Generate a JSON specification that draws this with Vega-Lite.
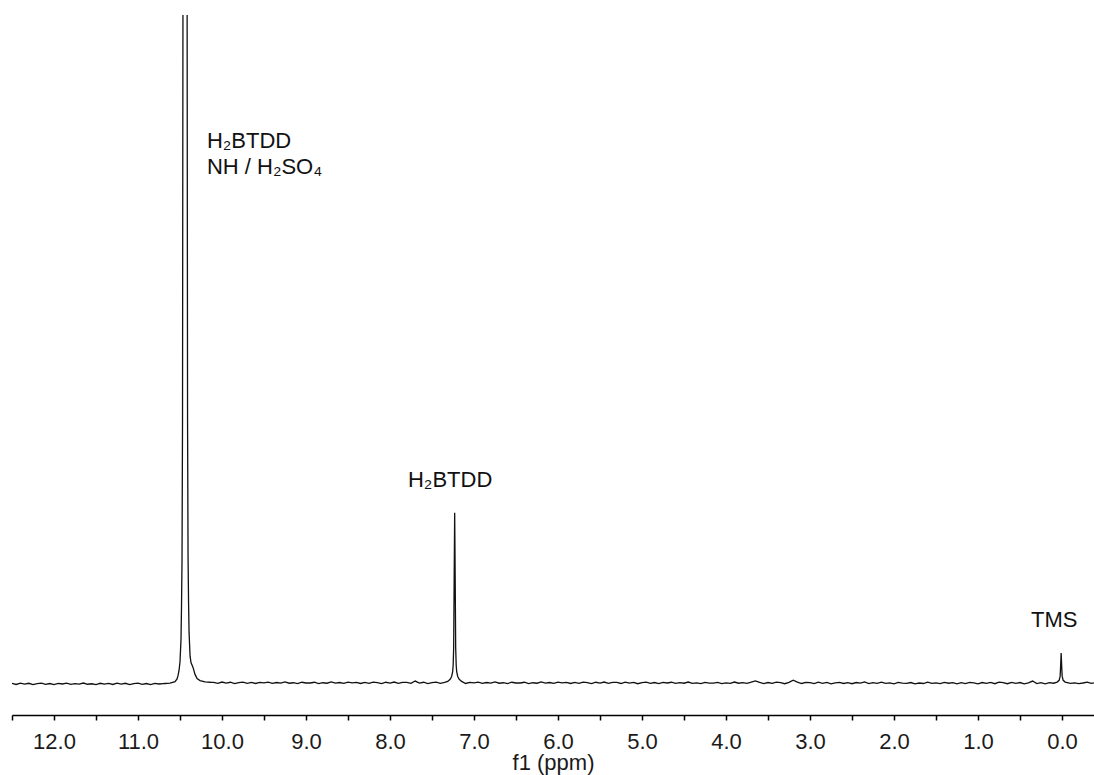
{
  "$schema": "https://vega.github.io/schema/vega-lite/v6.json",
  "width": 1082,
  "height": 700,
  "autosize": "none",
  "padding": {"left": 12, "top": 15, "right": 0, "bottom": 60},
  "background": "white",
  "config": {"view": {"stroke": null}, "font": "Liberation Sans"},
  "layer": [
    {
      "data": {"values": [
        {"x":12.50,"y":4.51},{"x":12.45,"y":4.36},{"x":12.40,"y":4.56},{"x":12.35,"y":4.41},{"x":12.30,"y":4.53},{"x":12.25,"y":4.33},{"x":12.20,"y":4.48},{"x":12.15,"y":4.55},{"x":12.10,"y":4.38},{"x":12.05,"y":4.50},{"x":12.00,"y":4.35},{"x":11.95,"y":4.52},{"x":11.90,"y":4.43},{"x":11.85,"y":4.54},{"x":11.80,"y":4.37},{"x":11.75,"y":4.49},{"x":11.70,"y":4.40},{"x":11.65,"y":4.57},{"x":11.60,"y":4.39},{"x":11.55,"y":4.46},{"x":11.50,"y":4.34},{"x":11.45,"y":4.53},{"x":11.40,"y":4.42},
        {"x":11.35,"y":4.51},{"x":11.30,"y":4.36},{"x":11.25,"y":4.56},{"x":11.20,"y":4.41},{"x":11.15,"y":4.53},{"x":11.10,"y":4.33},{"x":11.05,"y":4.48},{"x":11.00,"y":4.55},{"x":10.95,"y":4.38},{"x":10.90,"y":4.50},{"x":10.85,"y":4.35},{"x":10.80,"y":4.52},{"x":10.75,"y":4.43},{"x":10.70,"y":4.48},
        {"x":10.678,"y":4.50},{"x":10.619,"y":4.55},{"x":10.559,"y":4.75},{"x":10.535,"y":5.15},{"x":10.523,"y":5.65},{"x":10.511,"y":6.4},{"x":10.500,"y":7.6},{"x":10.488,"y":10.8},{"x":10.482,"y":15.5},{"x":10.476,"y":22},{"x":10.470,"y":42},{"x":10.464,"y":110},{"x":10.452,"y":500},{"x":10.44,"y":3000},
        {"x":10.428,"y":500},{"x":10.416,"y":110},{"x":10.410,"y":42},{"x":10.404,"y":22.5},{"x":10.398,"y":16},{"x":10.392,"y":11.8},{"x":10.380,"y":8.4},{"x":10.369,"y":7.5},{"x":10.345,"y":6.8},{"x":10.321,"y":5.8},{"x":10.297,"y":5.2},{"x":10.261,"y":4.92},{"x":10.202,"y":4.74},{"x":10.14,"y":4.68},
        {"x":10.10,"y":4.66},{"x":10.05,"y":4.51},{"x":10.00,"y":4.71},{"x":9.95,"y":4.56},{"x":9.90,"y":4.68},{"x":9.85,"y":4.48},{"x":9.80,"y":4.63},{"x":9.75,"y":4.70},{"x":9.70,"y":4.53},{"x":9.65,"y":4.65},{"x":9.60,"y":4.50},{"x":9.55,"y":4.67},{"x":9.50,"y":4.58},{"x":9.45,"y":4.69},{"x":9.40,"y":4.52},{"x":9.35,"y":4.64},{"x":9.30,"y":4.55},{"x":9.25,"y":4.72},{"x":9.20,"y":4.54},{"x":9.15,"y":4.61},{"x":9.10,"y":4.49},{"x":9.05,"y":4.68},{"x":9.00,"y":4.57},
        {"x":8.95,"y":4.57},{"x":8.90,"y":4.68},{"x":8.85,"y":4.49},{"x":8.80,"y":4.61},{"x":8.75,"y":4.54},{"x":8.70,"y":4.72},{"x":8.65,"y":4.55},{"x":8.60,"y":4.64},{"x":8.55,"y":4.52},{"x":8.50,"y":4.69},{"x":8.45,"y":4.58},{"x":8.40,"y":4.67},{"x":8.35,"y":4.50},{"x":8.30,"y":4.65},{"x":8.25,"y":4.53},{"x":8.20,"y":4.70},{"x":8.15,"y":4.63},{"x":8.10,"y":4.48},{"x":8.05,"y":4.68},{"x":8.00,"y":4.56},{"x":7.95,"y":4.71},{"x":7.90,"y":4.51},{"x":7.85,"y":4.66},
        {"x":7.80,"y":4.66},{"x":7.75,"y":4.51},{"x":7.70,"y":4.85},{"x":7.65,"y":4.56},{"x":7.60,"y":4.68},{"x":7.55,"y":4.48},{"x":7.50,"y":4.63},{"x":7.45,"y":4.70},{"x":7.40,"y":4.53},{"x":7.35,"y":4.65},
        {"x":7.313,"y":4.8},{"x":7.284,"y":5.1},{"x":7.266,"y":5.5},{"x":7.254,"y":6.2},{"x":7.248,"y":7.1},{"x":7.242,"y":9.6},{"x":7.236,"y":19.6},{"x":7.23,"y":28.9},{"x":7.224,"y":19.6},{"x":7.218,"y":9.6},{"x":7.212,"y":7.1},{"x":7.206,"y":6.2},{"x":7.194,"y":5.5},{"x":7.176,"y":5.1},{"x":7.147,"y":4.8},
        {"x":7.10,"y":4.50},{"x":7.05,"y":4.67},{"x":7.00,"y":4.58},{"x":6.95,"y":4.69},{"x":6.90,"y":4.52},{"x":6.85,"y":4.64},{"x":6.80,"y":4.55},{"x":6.75,"y":4.72},{"x":6.70,"y":4.54},{"x":6.65,"y":4.61},{"x":6.60,"y":4.49},{"x":6.55,"y":4.68},{"x":6.50,"y":4.57},
        {"x":6.45,"y":4.57},{"x":6.40,"y":4.68},{"x":6.35,"y":4.49},{"x":6.30,"y":4.61},{"x":6.25,"y":4.54},{"x":6.20,"y":4.72},{"x":6.15,"y":4.55},{"x":6.10,"y":4.64},{"x":6.05,"y":4.52},{"x":6.00,"y":4.69},{"x":5.95,"y":4.58},{"x":5.90,"y":4.67},{"x":5.85,"y":4.50},{"x":5.80,"y":4.65},{"x":5.75,"y":4.53},{"x":5.70,"y":4.70},{"x":5.65,"y":4.63},{"x":5.60,"y":4.48},{"x":5.55,"y":4.68},{"x":5.50,"y":4.56},{"x":5.45,"y":4.71},{"x":5.40,"y":4.51},{"x":5.35,"y":4.66},
        {"x":5.30,"y":4.65},{"x":5.25,"y":4.50},{"x":5.20,"y":4.70},{"x":5.15,"y":4.55},{"x":5.10,"y":4.67},{"x":5.05,"y":4.47},{"x":5.00,"y":4.62},{"x":4.95,"y":4.69},{"x":4.90,"y":4.52},{"x":4.85,"y":4.64},{"x":4.80,"y":4.49},{"x":4.75,"y":4.66},{"x":4.70,"y":4.57},{"x":4.65,"y":4.68},{"x":4.60,"y":4.51},{"x":4.55,"y":4.63},{"x":4.50,"y":4.54},{"x":4.45,"y":4.71},{"x":4.40,"y":4.53},{"x":4.35,"y":4.60},{"x":4.30,"y":4.48},{"x":4.25,"y":4.67},{"x":4.20,"y":4.56},
        {"x":4.15,"y":4.56},{"x":4.10,"y":4.67},{"x":4.05,"y":4.48},{"x":4.00,"y":4.60},{"x":3.95,"y":4.53},{"x":3.90,"y":4.71},{"x":3.85,"y":4.54},{"x":3.80,"y":4.63},{"x":3.75,"y":4.51},{"x":3.70,"y":4.68},{"x":3.65,"y":4.88},{"x":3.60,"y":4.66},{"x":3.55,"y":4.49},{"x":3.50,"y":4.64},{"x":3.45,"y":4.52},{"x":3.40,"y":4.69},{"x":3.35,"y":4.62},{"x":3.30,"y":4.47},{"x":3.25,"y":4.67},{"x":3.20,"y":4.98},{"x":3.15,"y":4.70},{"x":3.10,"y":4.50},{"x":3.05,"y":4.65},
        {"x":3.00,"y":4.63},{"x":2.95,"y":4.48},{"x":2.90,"y":4.68},{"x":2.85,"y":4.53},{"x":2.80,"y":4.65},{"x":2.75,"y":4.45},{"x":2.70,"y":4.60},{"x":2.65,"y":4.67},{"x":2.60,"y":4.50},{"x":2.55,"y":4.62},{"x":2.50,"y":4.47},{"x":2.45,"y":4.64},{"x":2.40,"y":4.55},{"x":2.35,"y":4.72},{"x":2.30,"y":4.49},{"x":2.25,"y":4.61},{"x":2.20,"y":4.52},{"x":2.15,"y":4.69},{"x":2.10,"y":4.51},{"x":2.05,"y":4.58},{"x":2.00,"y":4.46},{"x":1.95,"y":4.65},{"x":1.90,"y":4.54},
        {"x":1.85,"y":4.53},{"x":1.80,"y":4.64},{"x":1.75,"y":4.45},{"x":1.70,"y":4.57},{"x":1.65,"y":4.50},{"x":1.60,"y":4.68},{"x":1.55,"y":4.51},{"x":1.50,"y":4.60},{"x":1.45,"y":4.48},{"x":1.40,"y":4.65},{"x":1.35,"y":4.54},{"x":1.30,"y":4.63},{"x":1.25,"y":4.46},{"x":1.20,"y":4.61},{"x":1.15,"y":4.49},{"x":1.10,"y":4.66},{"x":1.05,"y":4.59},{"x":1.00,"y":4.44},{"x":0.95,"y":4.64},{"x":0.90,"y":4.52},{"x":0.85,"y":4.67},{"x":0.80,"y":4.47},{"x":0.75,"y":4.70},
        {"x":0.70,"y":4.62},{"x":0.65,"y":4.47},{"x":0.60,"y":4.67},{"x":0.55,"y":4.52},{"x":0.50,"y":4.64},{"x":0.45,"y":4.44},{"x":0.40,"y":4.59},{"x":0.35,"y":4.85},{"x":0.30,"y":4.49},{"x":0.25,"y":4.61},{"x":0.20,"y":4.46},{"x":0.15,"y":4.63},{"x":0.10,"y":4.54},
        {"x":0.058,"y":4.70},{"x":0.034,"y":4.95},{"x":0.022,"y":5.55},{"x":0.016,"y":7.05},{"x":0.01,"y":8.86},{"x":0.004,"y":7.05},{"x":-0.002,"y":5.55},{"x":-0.014,"y":4.95},{"x":-0.038,"y":4.70},
        {"x":-0.10,"y":4.52},{"x":-0.15,"y":4.60},{"x":-0.20,"y":4.48},{"x":-0.25,"y":4.57},{"x":-0.30,"y":4.70},{"x":-0.35,"y":4.53},{"x":-0.38,"y":4.58}
      ]},
      "mark": {"type": "line", "color": "#111111", "strokeWidth": 1.3, "clip": true, "interpolate": "linear"},
      "encoding": {
        "x": {
          "field": "x", "type": "quantitative",
          "scale": {"domain": [-0.381, 12.5], "reverse": true, "nice": false, "zero": false},
          "axis": {
            "title": "f1 (ppm)",
            "values": [12.5,12,11.5,11,10.5,10,9.5,9,8.5,8,7.5,7,6.5,6,5.5,5,4.5,4,3.5,3,2.5,2,1.5,1,0.5,0],
            "labelExpr": "datum.value % 1 == 0 ? format(datum.value, '.1f') : ''",
            "grid": false,
            "domainColor": "#000000",
            "domainWidth": 1.5,
            "tickColor": "#000000",
            "tickWidth": 1.5,
            "tickSize": 5,
            "labelFont": "Liberation Sans",
            "labelFontSize": 22,
            "labelColor": "#1a1a1a",
            "labelPadding": 11,
            "labelOverlap": false,
            "labelFlush": false,
            "titleFont": "Liberation Sans",
            "titleFontSize": 22,
            "titleFontWeight": "normal",
            "titleColor": "#1a1a1a",
            "titlePadding": 0
          }
        },
        "y": {
          "field": "y", "type": "quantitative",
          "scale": {"domain": [0, 100], "nice": false, "zero": false},
          "axis": null
        }
      }
    },
    {
      "data": {"values": [
        {"x": 10.18, "y": 81.0, "label": "H₂BTDD"},
        {"x": 10.18, "y": 77.3, "label": "NH / H₂SO₄"},
        {"x": 7.786, "y": 32.57, "label": "H₂BTDD"},
        {"x": 0.369, "y": 12.57, "label": "TMS"}
      ]},
      "mark": {"type": "text", "align": "left", "baseline": "alphabetic", "font": "Liberation Sans", "fontSize": 22, "color": "#111111"},
      "encoding": {
        "x": {"field": "x", "type": "quantitative"},
        "y": {"field": "y", "type": "quantitative"},
        "text": {"field": "label", "type": "nominal"}
      }
    }
  ]
}
